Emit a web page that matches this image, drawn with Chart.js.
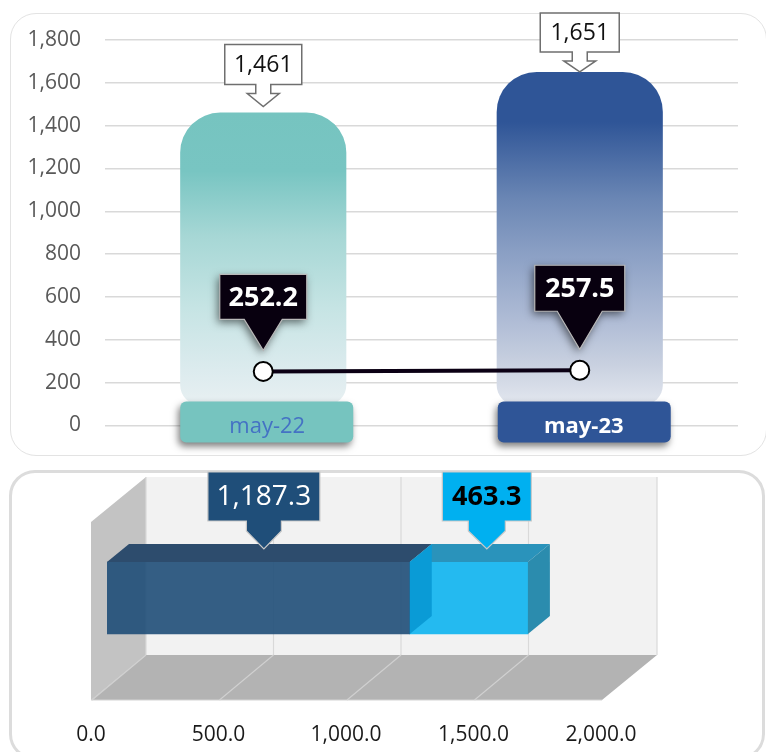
<!DOCTYPE html>
<html>
<head>
<meta charset="utf-8">
<script src="https://cdn.jsdelivr.net/npm/chart.js@4"></script>
<style>
html,body{margin:0;padding:0;background:#fff;width:766px;height:752px;overflow:hidden}
.card{position:absolute;box-sizing:border-box;background:#fff}
canvas{position:absolute;left:0}
</style>
</head>
<body>
<div class="card" style="left:10px;top:13px;width:757px;height:443px;border:1.5px solid #e3e3e3;border-radius:26px"></div>
<div class="card" style="left:9px;top:470px;width:756px;height:290px;border:3px solid #dcdcdc;border-radius:26px"></div>
<canvas id="top" width="766" height="462" style="top:0"></canvas>
<canvas id="bottom" width="766" height="292" style="top:460px"></canvas>
<script>
const months = ['may-22', 'may-23'];
const totals = [1461, 1651];
const lineValues = [252.2, 257.5];
const barCategory = [''];
const darkSeries = [1187.3];
const lightSeries = [463.3];

const FONT = '"Open Sans", sans-serif';
const fmt0 = v => Number(v).toLocaleString('en-US');
const fmt1 = v => Number(v).toLocaleString('en-US', {minimumFractionDigits: 1, maximumFractionDigits: 1});

function callout(c, o) {
  const l = o.tipX - o.boxW / 2 + (o.boxShift || 0), r = l + o.boxW;
  const b = o.tipY - o.gap, t = b - o.boxH;
  const sl = o.tipX - o.shaftW / 2, sr = o.tipX + o.shaftW / 2;
  const hl = o.tipX - o.headW / 2, hr = o.tipX + o.headW / 2;
  c.save();
  if (o.shadow) { c.shadowColor = 'rgba(0,0,0,.55)'; c.shadowBlur = 8; c.shadowOffsetX = -2; c.shadowOffsetY = 3; }
  c.beginPath();
  c.moveTo(l, t); c.lineTo(r, t); c.lineTo(r, b);
  c.lineTo(sr, b); c.lineTo(sr, b + o.shaft); c.lineTo(hr, b + o.shaft);
  c.lineTo(o.tipX, o.tipY);
  c.lineTo(hl, b + o.shaft); c.lineTo(sl, b + o.shaft); c.lineTo(sl, b); c.lineTo(l, b);
  c.closePath();
  c.fillStyle = o.fill; c.fill();
  c.shadowColor = 'transparent';
  c.strokeStyle = o.stroke; c.lineWidth = o.lw || 1.5; c.stroke();
  c.fillStyle = o.color; c.font = o.font; c.textAlign = 'center'; c.textBaseline = 'middle';
  c.fillText(o.text, (l + r) / 2, (t + b) / 2 + 1);
  c.restore();
}

function roundPath(c, x, y, w, h, r) {
  c.beginPath(); c.roundRect(x, y, w, h, r);
}

const barStops = [
  [[0, '#76c4c0'], [0.2, '#78c5c2'], [0.42, '#a6d7d5'], [0.67, '#c6e4e4'], [0.88, '#dcebee'], [1, '#e8f0f2']],
  [[0, '#2f5597'], [0.15, '#2f5597'], [0.38, '#6a86b4'], [0.54, '#8a9fc4'], [0.74, '#aebbd5'], [0.88, '#c9d1e0'], [1, '#e3e7ef']]
];
const pillStyle = [{fill: '#76c4bf', dx: 3.5}, {fill: '#2f5597', dx: 4.5}];

const topDecor = {
  id: 'topDecor',
  afterDatasetsDraw(chart) {
    const c = chart.ctx, bars = chart.getDatasetMeta(1).data, pts = chart.getDatasetMeta(0).data;
    const yZero = chart.scales.y.getPixelForValue(0);
    bars.forEach((b, i) => {
      c.save();
      c.shadowColor = 'rgba(0,0,0,.5)'; c.shadowBlur = 7; c.shadowOffsetX = -2; c.shadowOffsetY = 4;
      c.fillStyle = pillStyle[i].fill;
      roundPath(c, b.x + pillStyle[i].dx - 86.5, yZero - 24, 173, 41, 6);
      c.fill();
      c.restore();
    });
    const tipGaps = [6, 0], gaps = [22, 20], widths = [77, 79], heights = [40, 39];
    bars.forEach((b, i) => callout(c, {
      tipX: b.x, tipY: b.y - tipGaps[i], boxW: widths[i], boxH: heights[i], gap: gaps[i],
      shaftW: 15, headW: 32, shaft: 9, fill: '#fff', stroke: '#6f6f6f',
      color: '#111', font: '23px ' + FONT, text: fmt0(totals[i])
    }));
    const bw = [87, 90], bh = [45, 46], bg = [31, 38], hw = [38, 45];
    pts.forEach((p, i) => callout(c, {
      tipX: p.x, tipY: p.y - 21, boxW: bw[i], boxH: bh[i], gap: bg[i],
      shaftW: hw[i], headW: hw[i], shaft: 0, fill: '#08000f', stroke: '#b9b9b9', lw: 1.2, shadow: true,
      color: '#fff', font: 'bold 27px ' + FONT, text: lineValues[i].toFixed(1)
    }));
  }
};

new Chart(document.getElementById('top'), {
  type: 'bar',
  data: {
    labels: months,
    datasets: [
      {
        type: 'line', data: lineValues, order: 0,
        borderColor: '#0b0014', borderWidth: 4,
        pointRadius: 9.5, pointBackgroundColor: '#fff', pointBorderColor: '#000', pointBorderWidth: 2,
        tension: 0
      },
      {
        type: 'bar', data: totals, order: 1, base: 95,
        barPercentage: 0.525, categoryPercentage: 1,
        borderSkipped: false,
        borderRadius: {topLeft: 40, topRight: 40, bottomLeft: 20, bottomRight: 20},
        backgroundColor(ctx) {
          const ch = ctx.chart;
          if (!ch.chartArea || ctx.dataIndex === undefined) return '#ccc';
          const y = ch.scales.y;
          const g = ch.ctx.createLinearGradient(0, y.getPixelForValue(totals[ctx.dataIndex]), 0, y.getPixelForValue(95));
          barStops[ctx.dataIndex].forEach(s => g.addColorStop(s[0], s[1]));
          return g;
        }
      }
    ]
  },
  options: {
    responsive: false, animation: false, events: [],
    layout: {padding: {top: 40, right: 28, left: 0, bottom: 0}},
    plugins: {legend: {display: false}, tooltip: {enabled: false}},
    scales: {
      x: {
        afterFit(s) { s.height = 33; },
        grid: {display: false, drawTicks: false}, border: {display: false},
        ticks: {
          z: 1, mirror: true, padding: -15, labelOffset: 4, maxRotation: 0,
          color: c => c.index === 0 ? '#4472c4' : '#ffffff',
          font: c => ({family: FONT, size: 22, weight: c.index === 0 ? 'normal' : 'bold'})
        }
      },
      y: {
        min: 0, max: 1800,
        afterFit(s) { s.width = 105; },
        grid: {color: '#d9d9d9', lineWidth: 1.5, drawTicks: false}, border: {display: false},
        ticks: {
          stepSize: 200, padding: 24, color: '#595959',
          font: {family: FONT, size: 21},
          callback: fmt0
        }
      }
    }
  },
  plugins: [topDecor]
});

const FRONT = {dx: -15, y: 240}, BACK = {dx: 39, y: 195}, WALL_TOP = 17, DEPTH = {dx: 22, dy: -18};
function poly(c, pts, fill) {
  c.beginPath(); pts.forEach((p, i) => i ? c.lineTo(p[0], p[1]) : c.moveTo(p[0], p[1]));
  c.closePath(); c.fillStyle = fill; c.fill();
}
const stage3d = {
  id: 'stage3d',
  beforeDatasetsDraw(chart) {
    const c = chart.ctx, x = chart.scales.x;
    const p0 = x.getPixelForValue(0), p1 = x.getPixelForValue(x.max);
    c.fillStyle = '#f2f2f2';
    c.fillRect(p0 + BACK.dx, WALL_TOP, p1 - p0 + 1, BACK.y - WALL_TOP);
    poly(c, [[p0 + FRONT.dx - 1, FRONT.y], [p0 + BACK.dx, BACK.y], [p0 + BACK.dx, WALL_TOP], [p0 + FRONT.dx - 1, WALL_TOP + 45]], '#c3c3c3');
    poly(c, [[p0 + FRONT.dx - 1, FRONT.y], [p1 + FRONT.dx, FRONT.y], [p1 + BACK.dx + 1, BACK.y], [p0 + BACK.dx, BACK.y]], '#b3b3b3');
    c.lineWidth = 1.2;
    x.ticks.forEach(t => {
      const px = x.getPixelForValue(t.value);
      const extra = t.value === x.max ? 1 : 0;
      c.strokeStyle = '#d9d9d9';
      c.beginPath(); c.moveTo(px + BACK.dx + extra, WALL_TOP); c.lineTo(px + BACK.dx + extra, BACK.y); c.stroke();
      if (t.value !== x.max) {
        c.strokeStyle = '#d0d0d0';
        c.beginPath(); c.moveTo(px + BACK.dx, BACK.y); c.lineTo(px + FRONT.dx, FRONT.y); c.stroke();
      }
    });
    c.strokeStyle = '#d4d4d4';
    c.beginPath(); c.moveTo(p0 + FRONT.dx - 1, FRONT.y); c.lineTo(p1 + FRONT.dx, FRONT.y); c.stroke();
  },
  afterDatasetsDraw(chart) {
    const c = chart.ctx;
    const d = chart.getDatasetMeta(0).data[0], l = chart.getDatasetMeta(1).data[0];
    const t = d.y - d.height / 2, b = d.y + d.height / 2;
    const top = (x0, x1, fill) => poly(c, [[x0, t], [x1, t], [x1 + DEPTH.dx, t + DEPTH.dy], [x0 + DEPTH.dx, t + DEPTH.dy]], fill);
    top(d.base, d.x, '#2d4c6d');
    top(l.base, l.x, '#2a93bb');
    poly(c, [[l.base, t], [l.base + DEPTH.dx, t + DEPTH.dy], [l.base + DEPTH.dx, b + DEPTH.dy], [l.base, b]], '#0a9bd6');
    poly(c, [[l.x, t], [l.x + DEPTH.dx, t + DEPTH.dy], [l.x + DEPTH.dx, b + DEPTH.dy], [l.x, b]], '#2b8cae');
    const tipY = t + DEPTH.dy + 5;
    callout(c, {
      tipX: (d.base + d.x) / 2 + 5.5, tipY, boxW: 112, boxH: 49, gap: 28, boxShift: 0,
      shaftW: 35, headW: 35, shaft: 10, fill: '#1f4e79', stroke: '#c9c9c9', lw: 1.2,
      color: '#fff', font: '28px ' + FONT, text: fmt1(darkSeries[0])
    });
    callout(c, {
      tipX: (l.base + l.x) / 2 + 18, tipY, boxW: 89, boxH: 49, gap: 28, boxShift: 0,
      shaftW: 37, headW: 37, shaft: 10, fill: '#00b0f0', stroke: '#c9c9c9', lw: 1.2,
      color: '#000', font: 'bold 27px ' + FONT, text: fmt1(lightSeries[0])
    });
  }
};

new Chart(document.getElementById('bottom'), {
  type: 'bar',
  data: {
    labels: barCategory,
    datasets: [
      {data: darkSeries, backgroundColor: 'rgba(31,78,120,.9)', barThickness: 72},
      {data: lightSeries, backgroundColor: 'rgba(0,176,240,.85)', barThickness: 72}
    ]
  },
  options: {
    indexAxis: 'y', responsive: false, animation: false, events: [],
    layout: {padding: {left: 107, right: 149, top: 64, bottom: 0}},
    plugins: {legend: {display: false}, tooltip: {enabled: false}},
    scales: {
      x: {
        stacked: true, min: 0, max: 2000,
        afterFit(s) { s.height = 80; },
        grid: {display: false}, border: {display: false},
        ticks: {
          stepSize: 500, padding: 42, labelOffset: -16, maxRotation: 0, color: '#1a1a1a',
          font: {family: FONT, size: 21},
          callback: fmt1
        }
      },
      y: {stacked: true, display: false}
    }
  },
  plugins: [stage3d]
});
</script>
</body>
</html>
